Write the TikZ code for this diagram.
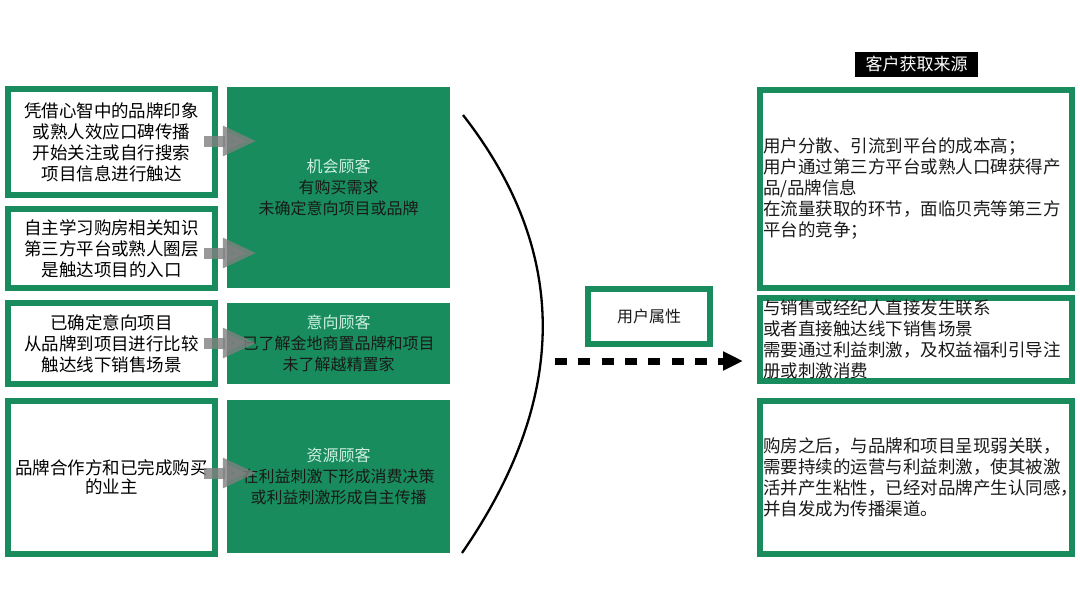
\documentclass[tikz,border=0pt]{standalone}
\usepackage{fontspec}
\setmainfont{Noto Sans CJK SC}
\usetikzlibrary{arrows.meta,calc}
\definecolor{grn}{RGB}{24,140,92}
\definecolor{mint}{RGB}{205,240,222}
\definecolor{ink}{RGB}{25,25,25}
\definecolor{garr}{RGB}{128,128,128}
\begin{document}
\begin{tikzpicture}[x=1pt,y=-1pt,
  lbox/.style={draw=grn, line width=6pt, fill=white, inner sep=0pt, align=center,
    minimum width=207pt, font=\fontsize{17.5}{21}\selectfont, text=black},
  gbox/.style={fill=grn, inner sep=0pt, align=center, minimum width=223pt,
    font=\fontsize{16}{21}\selectfont, text=ink},
  rbox/.style={draw=grn, line width=6pt, fill=white, inner xsep=3pt, inner ysep=0pt,
    text width=306pt, align=left, minimum width=312pt, font=\fontsize{17.5}{21}\selectfont, text=ink},
  garrow/.style={draw=garr, opacity=0.8, line width=11pt,
    -{Triangle[length=34pt,width=28pt]}},
  dotarrow/.style={draw=black, line width=7pt, dash pattern=on 12pt off 11.3pt,
    -{Triangle[length=20pt,width=18pt]}}
]
\useasboundingbox (0,0) rectangle (1080,608);

% left boxes
\node[lbox, minimum height=106pt] (B1) at (111.5,142) {凭借心智中的品牌印象\\或熟人效应口碑传播\\开始关注或自行搜索\\项目信息进行触达};
\node[lbox, minimum height=79pt] (B2) at (111.5,248.5) {自主学习购房相关知识\\第三方平台或熟人圈层\\是触达项目的入口};
\node[lbox, minimum height=81pt] (B3) at (111.5,343.5) {已确定意向项目\\从品牌到项目进行比较\\触达线下销售场景};
\node[lbox, minimum height=153pt, font=\fontsize{17.5}{19}\selectfont] (B4) at (111.5,477.5) {品牌合作方和已完成购买\\的业主};

% green boxes
\node[gbox, minimum height=201pt] (GA) at (338.5,187.5) {{\color{mint}机会顾客}\\有购买需求\\未确定意向项目或品牌};
\node[gbox, minimum height=81pt] (GB) at (338.5,343.5) {{\color{mint}意向顾客}\\已了解金地商置品牌和项目\\未了解越精置家};
\node[gbox, minimum height=153pt] (GC) at (338.5,476.5) {{\color{mint}资源顾客}\\在利益刺激下形成消费决策\\或利益刺激形成自主传播};

% gray arrows
\draw[garrow] ($(B1.east)+(-14,-1)$) -- ($(GA.west)+(30,-46.5)$);
\draw[garrow] ($(B2.east)+(-14,4.5)$) -- ($(GA.west)+(30,65.5)$);
\draw[garrow] ($(B3.east)+(-14,-0.5)$) -- ($(GB.west)+(30,-0.5)$);
\draw[garrow] ($(B4.east)+(-14,-4.5)$) -- ($(GC.west)+(30,-3.5)$);

% curve
\draw[line width=2.3pt, black] (463,115) .. controls (569.7,251.7) and (569.3,397.7) .. (462,553);

% user attribute box
\node[draw=grn, line width=6pt, fill=white, minimum width=122pt, minimum height=55pt,
  inner sep=0pt, font=\fontsize{16}{19}\selectfont, text=ink] (UA) at (649,316.5) {用户属性};

% title
\node[fill=black, text=white, minimum width=123pt, minimum height=25pt, inner sep=0pt,
  font=\fontsize{17}{19}\selectfont] (T) at (916.5,64.5) {客户获取来源};

% right boxes
\node[rbox, minimum height=198pt] (R1) at (916,189) {用户分散、引流到平台的成本高；\\用户通过第三方平台或熟人口碑获得产\\品/品牌信息\\在流量获取的环节，面临贝壳等第三方\\平台的竞争；};
\node[rbox, minimum height=83pt] (R2) at (916,339.5) {与销售或经纪人直接发生联系\\或者直接触达线下销售场景\\需要通过利益刺激，及权益福利引导注\\册或刺激消费};
\node[rbox, minimum height=153pt] (R3) at (916,477.5) {购房之后，与品牌和项目呈现弱关联，\\需要持续的运营与利益刺激，使其被激\\活并产生粘性，已经对品牌产生认同感，\\并自发成为传播渠道。};

% dotted arrow
\coordinate (DS) at (555,361);
\draw[dotarrow] (DS) -- ($(DS -| R2.west)+(-14,0)$);
\end{tikzpicture}
\end{document}
